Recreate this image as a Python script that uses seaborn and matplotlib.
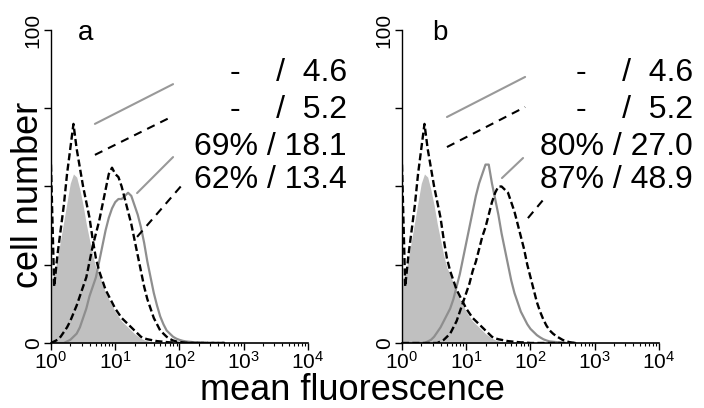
import numpy as np
import matplotlib
matplotlib.use("Agg")
import matplotlib.pyplot as plt
import seaborn as sns
from matplotlib.ticker import LogLocator, NullFormatter, FixedLocator, FixedFormatter

# channel positions (log10 of fluorescence), 0.05 decade apart
log_channel = [0.00, 0.05, 0.10, 0.15, 0.20, 0.25, 0.30, 0.35, 0.40, 0.45,
               0.50, 0.55, 0.60, 0.65, 0.70, 0.75, 0.80, 0.85, 0.90, 0.95,
               1.00, 1.05, 1.10, 1.15, 1.20, 1.25, 1.30, 1.35, 1.40, 1.45,
               1.50, 1.55, 1.60, 1.65, 1.70, 1.75, 1.80, 1.85, 1.90, 1.95,
               2.00, 2.05, 2.10, 2.15, 2.20, 2.25, 2.30, 2.35, 2.40, 2.45,
               2.50, 2.55, 2.60, 2.65, 2.70]

# controls (same in both panels)
ctrl_fill = [20, 22, 27, 33, 39, 45, 51, 54, 53, 49,
             44, 38, 33, 28, 24, 22, 19, 16, 14, 12,
             10, 8.5, 7, 6, 5, 4, 3, 2.2, 1.5, 1,
             0.7, 0.5, 0.3, 0.2, 0.1, 0, 0, 0, 0, 0,
             0, 0, 0, 0, 0, 0, 0, 0, 0, 0,
             0, 0, 0, 0, 0]
ctrl_dash = [57, 18, 28, 36, 44, 54, 62, 70, 62, 56,
             50, 45, 40, 33, 27, 23, 20, 17, 15, 13,
             11, 9.5, 8, 7, 6, 5, 4, 3, 2, 1.5,
             1.2, 1, 0.8, 0.6, 0.5, 0.4, 0.3, 0.2, 0.2, 0.1,
             0, 0, 0, 0, 0, 0, 0, 0, 0, 0,
             0, 0, 0, 0, 0]

# panel a
a_gray = [0, 0, 0, 0, 0, 0.5, 1, 2, 3, 5,
          8, 11, 15, 18, 21, 26, 31, 36, 40, 43,
          45, 46, 46, 47, 48, 47, 44, 41, 37, 32,
          26, 21, 16, 12, 8.5, 6, 4, 3, 2, 1.4,
          1, 0.7, 0.5, 0.4, 0.3, 0.2, 0.2, 0.1, 0.1, 0,
          0, 0, 0, 0, 0]
a_dash = [0, 0.5, 1, 2, 3.5, 5, 7, 9.5, 12, 15,
          18, 21, 26, 31, 35, 39, 44, 49, 54, 56,
          54, 53, 50, 46, 42, 38, 33, 28, 23, 18,
          14, 11, 8, 6, 4, 3, 2, 1.3, 0.8, 0.5,
          0.3, 0.2, 0.1, 0, 0, 0, 0, 0, 0, 0,
          0, 0, 0, 0, 0]

# panel b
b_gray = [0, 0, 0, 0, 0, 0, 0, 0, 0.5, 1,
          2, 3.5, 5, 7, 9, 11, 14, 18, 22, 27,
          32, 37, 42, 47, 51, 54, 57, 57, 51, 46,
          41, 35, 30, 25, 20, 16, 13, 10, 8, 6,
          4.5, 3.5, 2.5, 1.8, 1.2, 0.8, 0.5, 0.4, 0.3, 0.2,
          0.1, 0, 0, 0, 0]
b_dash = [0, 0, 0, 0, 0, 0, 0, 0, 0, 0,
          0, 0, 0.5, 1, 2, 3, 5, 7, 10, 13,
          16, 19, 23, 26, 30, 34, 37, 41, 45, 48,
          50, 50, 49, 48, 45, 42, 38, 34, 30, 25,
          21, 17, 13, 10, 7.5, 5.5, 4, 3, 2.2, 1.6,
          1, 0.6, 0.3, 0.1, 0]

labels_a = ["-    /  4.6", "-    /  5.2", "69% / 18.1", "62% / 13.4"]
labels_b = ["-    /  4.6", "-    /  5.2", "80% / 27.0", "87% / 48.9"]

sns.set_style("ticks")
plt.rcParams['font.family'] = ['Liberation Sans', 'DejaVu Sans']
plt.rcParams['mathtext.default'] = 'regular'
for k in ['text.color', 'axes.labelcolor', 'xtick.color', 'ytick.color', 'axes.edgecolor']:
    plt.rcParams[k] = 'black'

fl = 10 ** np.array(log_channel)

FILL = '#c0c0c0'
GRAY = '#8e8e8e'
DASH = (0, (3, 1.4))

fig = plt.figure(figsize=(7.04, 4.08), dpi=100)
ax_a = fig.add_axes([0.0724, 0.1593, 0.3651, 0.7672])
ax_b = fig.add_axes([0.5710, 0.1593, 0.3651, 0.7672])

panels = [
    (ax_a, "a", a_gray, a_dash, labels_a, 1.152,
     [((0.171, 0.700), (0.475, 0.827)), ((0.171, 0.601), (0.475, 0.725)),
      ((0.335, 0.479), (0.475, 0.594)), ((0.335, 0.339), (0.510, 0.505))]),
    (ax_b, "b", b_gray, b_dash, labels_b, 1.132,
     [((0.175, 0.722), (0.479, 0.850)), ((0.175, 0.626), (0.479, 0.754)),
      ((0.389, 0.527), (0.471, 0.591)), ((0.490, 0.399), (0.549, 0.457))]),
]

for ax, letter, pos_gray, pos_dash, labels, text_x, leaders in panels:
    ax.set_xscale('log')
    ax.fill_between(fl, ctrl_fill, 0, color=FILL, lw=0, zorder=1)
    sns.lineplot(x=fl, y=pos_gray, ax=ax, color=GRAY, linewidth=1.6, zorder=2)
    sns.lineplot(x=fl, y=ctrl_dash, ax=ax, color='black', linewidth=1.7,
                 linestyle=DASH, zorder=3)
    sns.lineplot(x=fl, y=pos_dash, ax=ax, color='black', linewidth=1.7,
                 linestyle=DASH, zorder=3)

    ax.set_xlim(1, 1e4)
    ax.set_ylim(0, 100)
    sns.despine(ax=ax)
    ax.spines['left'].set_linewidth(1.0)
    ax.spines['bottom'].set_linewidth(1.2)

    ax.xaxis.set_major_locator(LogLocator(base=10, numticks=10))
    ax.xaxis.set_minor_locator(LogLocator(base=10, subs=np.arange(2, 10), numticks=20))
    ax.xaxis.set_minor_formatter(NullFormatter())
    ax.tick_params(axis='x', which='major', length=5, width=1, labelsize=15, pad=1)
    ax.tick_params(axis='x', which='minor', length=2.5, width=0.8)
    ax.yaxis.set_major_locator(FixedLocator([0, 25, 50, 75, 100]))
    ax.yaxis.set_major_formatter(FixedFormatter(['0', '', '', '', '100']))
    ax.tick_params(axis='y', length=5, width=1, labelsize=15, pad=1)
    for t in ax.get_yticklabels():
        t.set_rotation(90)
        t.set_va('center')
    ax.set_xlabel('')
    ax.set_ylabel('')

    ax.text(0.105 if letter == 'a' else 0.117, 0.968, letter,
            transform=ax.transAxes, fontsize=20, va='baseline')

    for lab, yb in zip(labels, [0.837, 0.719, 0.601, 0.495]):
        ax.text(text_x, yb, lab, transform=ax.transAxes, fontsize=23,
                ha='right', va='baseline', clip_on=False)

    styles = [dict(color='#999999', ls='-'), dict(color='black', ls=(0, (4, 3))),
              dict(color='#999999', ls='-'), dict(color='black', ls=(0, (4, 3)))]
    for (p0, p1), st in zip(leaders, styles):
        ax.plot([p0[0], p1[0]], [p0[1], p1[1]], transform=ax.transAxes,
                lw=1.5, clip_on=False, **st)

fig.text(0.501, 0.0196, 'mean fluorescence', ha='center', va='baseline', fontsize=26)
fig.text(0.041, 0.522, 'cell number', ha='center', va='center', rotation=90, fontsize=26)

fig.savefig('out.png', dpi=100)
